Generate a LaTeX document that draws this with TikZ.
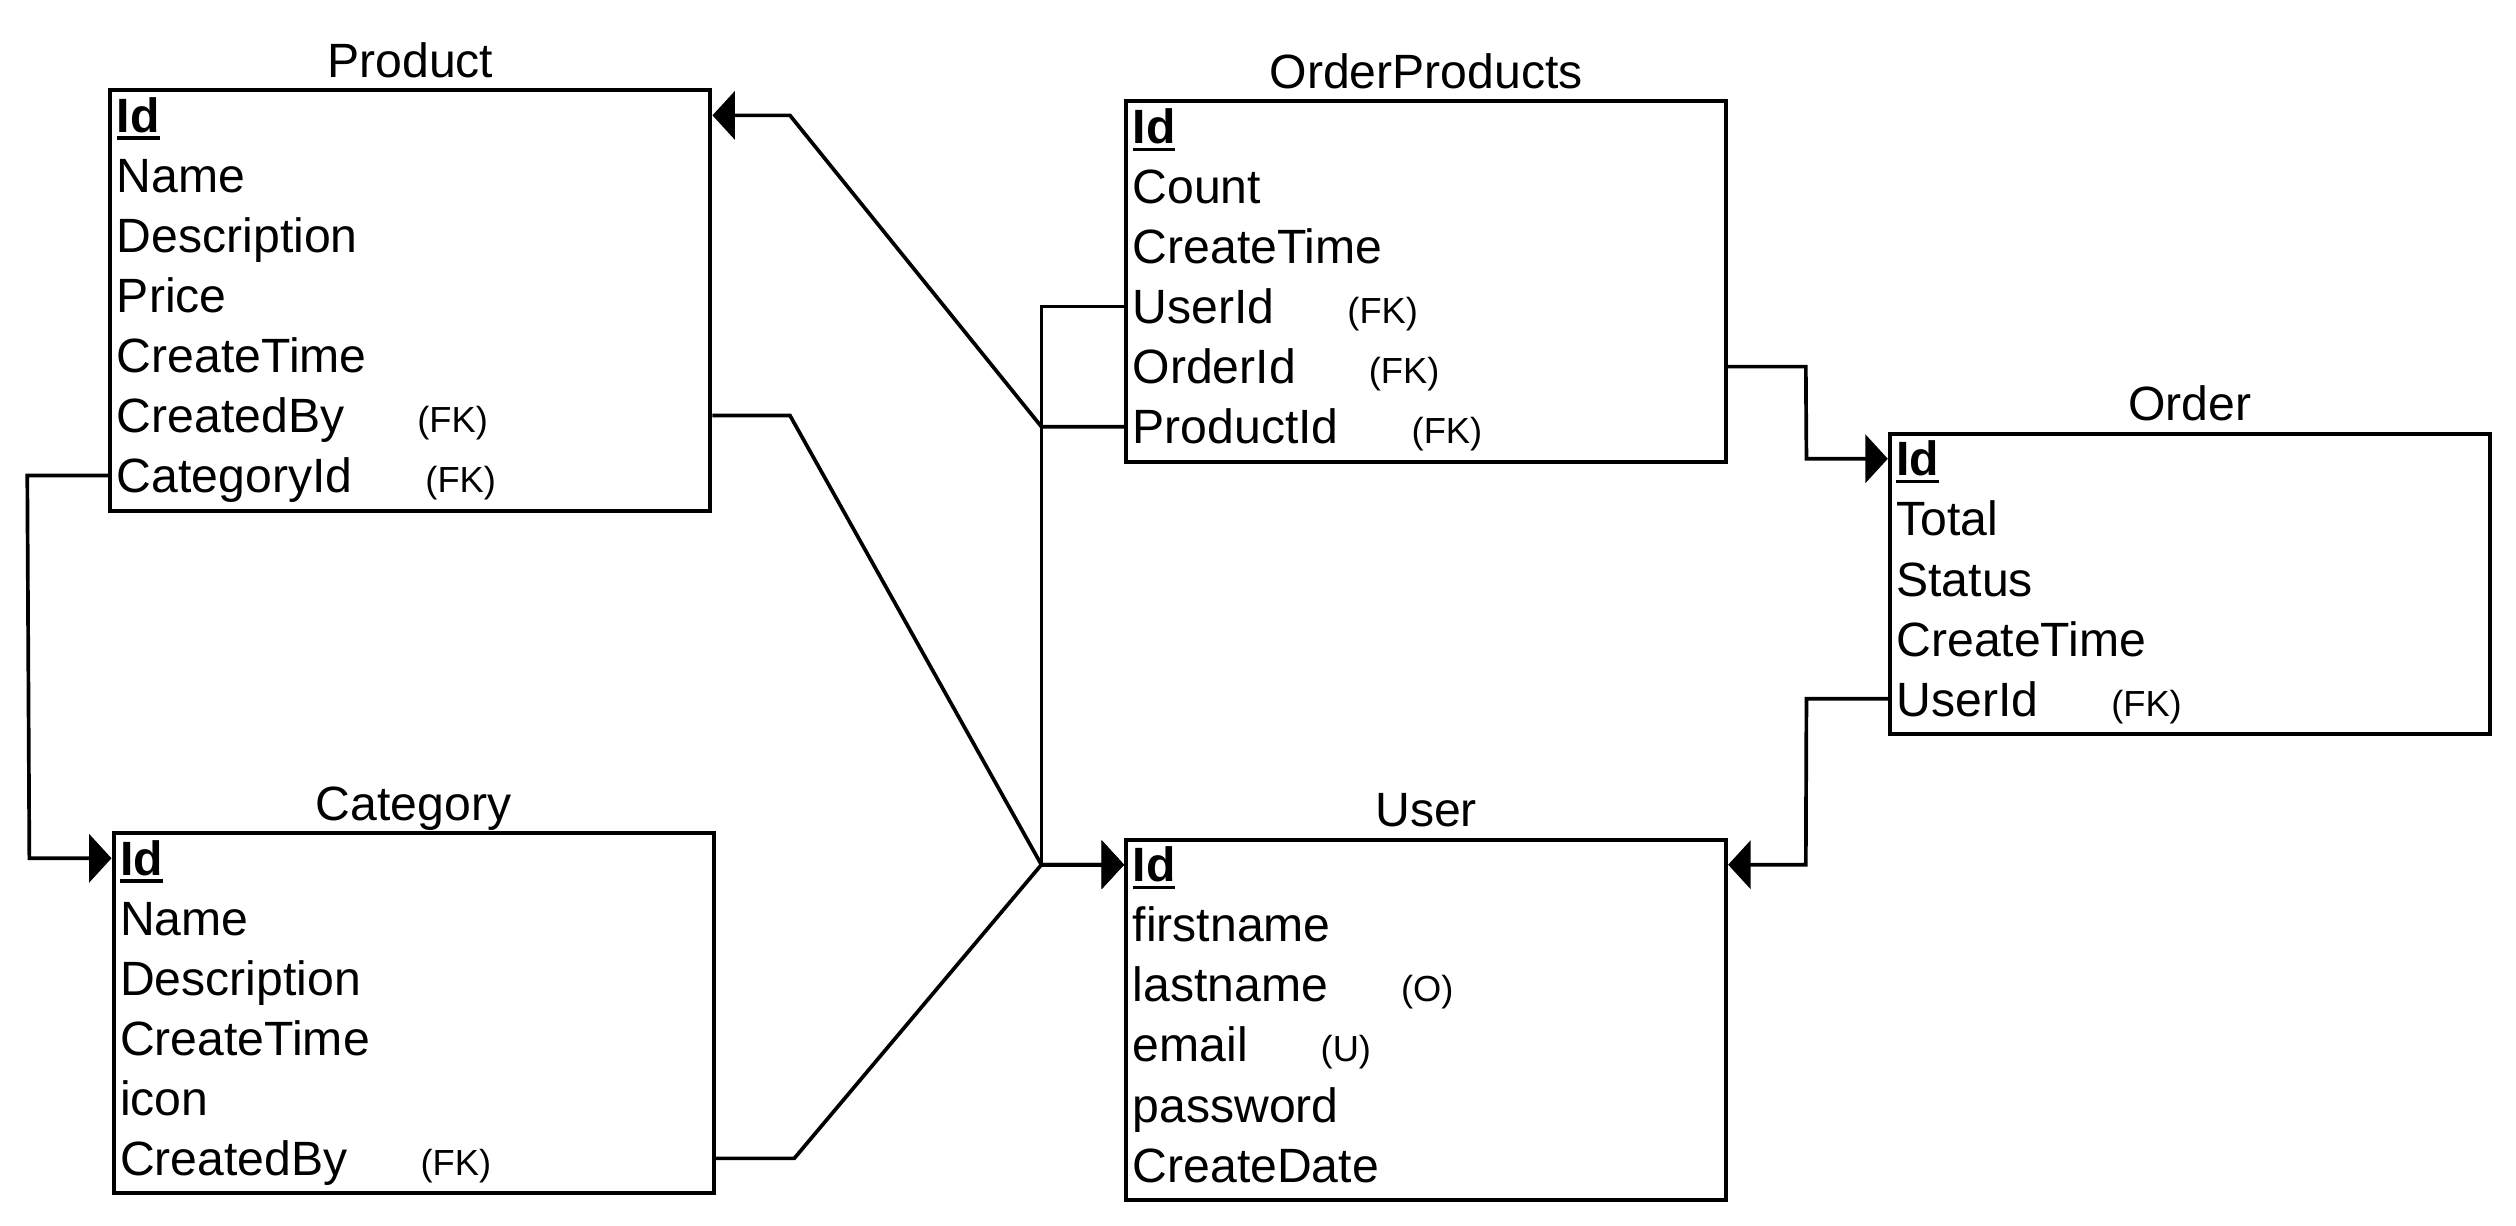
\documentclass[tikz,border=0pt]{standalone}
\usepackage{fontspec}
\setmainfont{Liberation Sans}
\usetikzlibrary{arrows.meta,calc}
\newcommand\fknote[1]{\hspace{22.75pt}{\fontsize{11.3pt}{13pt}\selectfont #1}}
\newcommand\pkey[1]{\setbox0\hbox{\bfseries #1}\rlap{\rule[-2.2pt]{\wd0}{1.05pt}}\box0}
\tikzset{
  tbl/.style={draw, line width=1.25pt, anchor=north west, minimum width=187pt, inner sep=0pt, fill=white},
  ttl/.style={inner sep=0pt, text height=10.74pt, text depth=0pt, font=\fontsize{15pt}{18pt}\selectfont},
  fld/.style={anchor=west, inner sep=0pt, text height=10.74pt, text depth=0pt, font=\fontsize{15pt}{18pt}\selectfont},
  conn/.style={line width=1.15pt},
  fk/.style={conn, -{Triangle[length=7pt,width=15pt]}},
}
\newcommand\erfield[4]{\node[fld] (#1) at ($(#2.north west)+(5,{16.9+37.4*#3})$) {#4};}
\begin{document}
\begin{tikzpicture}[x=0.5pt,y=-0.5pt]
\fill[white] (0,0) rectangle (1568,764);
\useasboundingbox (0,0) rectangle (1568,764);
% tables
\node[tbl, minimum height=131pt] (product) at (67.5,55) {};
\node[tbl, minimum height=112.2pt] (category) at (69.5,518) {};
\node[tbl, minimum height=112.2pt] (op) at (700.5,62) {};
\node[tbl, minimum height=93.5pt] (order) at (1176.5,269) {};
\node[tbl, minimum height=112.2pt] (user) at (700.5,522) {};
% titles
\node[ttl] (productT) at ($(product.north)+(0,-17.5)$) {Product};
\node[ttl] (categoryT) at ($(category.north)+(0,-17.5)$) {Category};
\node[ttl] (opT) at ($(op.north)+(0,-17.5)$) {OrderProducts};
\node[ttl] (orderT) at ($(order.north)+(0,-17.5)$) {Order};
\node[ttl] (userT) at ($(user.north)+(0,-17.5)$) {User};
% Product
\erfield{pid}{product}{0}{\pkey{Id}}
\erfield{pname}{product}{1}{Name}
\erfield{pdesc}{product}{2}{Description}
\erfield{pprice}{product}{3}{Price}
\erfield{pct}{product}{4}{CreateTime}
\erfield{pcb}{product}{5}{CreatedBy\fknote{(FK)}}
\erfield{pcat}{product}{6}{CategoryId\fknote{(FK)}}
% Category
\erfield{cid}{category}{0}{\pkey{Id}}
\erfield{cname}{category}{1}{Name}
\erfield{cdesc}{category}{2}{Description}
\erfield{cct}{category}{3}{CreateTime}
\erfield{cicon}{category}{4}{icon}
\erfield{ccb}{category}{5}{CreatedBy\fknote{(FK)}}
% OrderProducts
\erfield{opid}{op}{0}{\pkey{Id}}
\erfield{ocount}{op}{1}{Count}
\erfield{oct}{op}{2}{CreateTime}
\erfield{ouser}{op}{3}{UserId\fknote{(FK)}}
\erfield{oorder}{op}{4}{OrderId\fknote{(FK)}}
\erfield{oprod}{op}{5}{ProductId\fknote{(FK)}}
% Order
\erfield{rid}{order}{0}{\pkey{Id}}
\erfield{rtotal}{order}{1}{Total}
\erfield{rstatus}{order}{2}{Status}
\erfield{rct}{order}{3}{CreateTime}
\erfield{ruser}{order}{4}{UserId\fknote{(FK)}}
% User
\erfield{uid}{user}{0}{\pkey{Id}}
\erfield{ufirst}{user}{1}{firstname}
\erfield{ulast}{user}{2}{lastname\fknote{(O)}}
\erfield{uemail}{user}{3}{email\fknote{(U)}}
\erfield{upass}{user}{4}{password}
\erfield{udate}{user}{5}{CreateDate}
% connectors
\coordinate (hub) at ($(user.west |- uid)+(-51.5,0)$);
\draw[fk] (product.west |- pcat) -- ++(-50.5,0) -- ($(category.west |- cid)+(-51.2,0)$) -- (category.west |- cid);
\draw[fk] (op.west |- oprod) -- ($(op.west |- oprod)+(-51.5,0)$) -- ($(product.east |- pid)+(48.3,0)$) -- (product.east |- pid);
\draw[fk] (product.east |- pcb) -- ++(48.3,0) -- (hub) -- (user.west |- uid);
\draw[fk] (op.west |- ouser) -- ++(-51.5,0) -- (hub) -- (user.west |- uid);
\draw[fk] (category.east |- ccb) -- ++(49,0) -- (hub) -- (user.west |- uid);
\draw[fk] (op.east |- oorder) -- ++(48.4,0) -- ($(order.west |- rid)+(-50.7,0)$) -- (order.west |- rid);
\draw[fk] (order.west |- ruser) -- ++(-50.7,0) -- ($(user.east |- uid)+(48.4,0)$) -- (user.east |- uid);
\end{tikzpicture}
\end{document}
